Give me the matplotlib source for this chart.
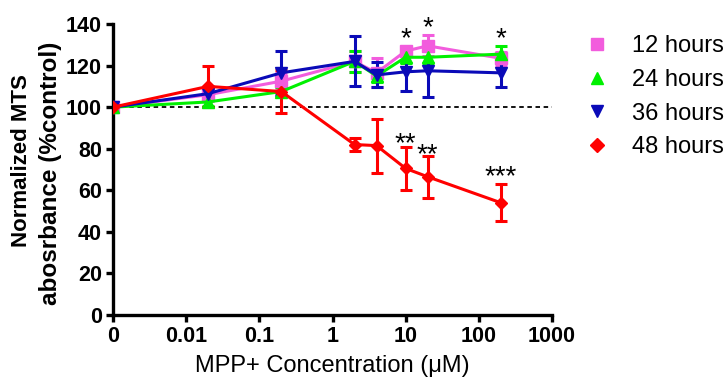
import matplotlib
matplotlib.use("Agg")
import matplotlib.pyplot as plt
from matplotlib.lines import Line2D

plt.rcParams['font.family'] = ['Liberation Sans', 'DejaVu Sans']

# Data (MTS absorbance, % of control)
concentration = [0, 0.02, 0.2, 2, 4, 10, 20, 200]  # uM
ZERO_POS = 0.001  # where the "0" dose sits on the log axis

h12 = [100, 106, 112.5, 122, 116.5, 127, 129.5, 123.5]
h12_err = [1, 3, 4, 5, 7, 2, 5, 3]
h24 = [100, 102.5, 107.5, 122, 115, 124, 124, 125.5]
h24_err = [1, 2, 2, 5, 3, 3, 3, 4]
h36 = [100, 106.5, 116.5, 122, 115.5, 117, 117.5, 116.5]
h36_err = [1, 3, 10.5, 12, 6, 9, 12.5, 7]
h48 = [100, 110, 107.5, 82, 81.5, 70.5, 66.5, 54]
h48_err = [1, 10, 10.5, 3, 13, 10.5, 10, 9]

# significance marks: (concentration, y, text)
sig_marks = [(10, 132.5, '*'), (20, 138, '*'), (200, 132.5, '*'),
             (10, 82, '**'), (20, 77, '**'), (200, 66.5, '***')]

tick_pos = [0.001, 0.01, 0.1, 1, 10, 100, 1000]
tick_labels = ['0', '0.01', '0.1', '1', '10', '100', '1000']

series = [
    ('12 hours', h12, h12_err, '#F25CDD', 's', 8),
    ('24 hours', h24, h24_err, '#00F000', '^', 8),
    ('36 hours', h36, h36_err, '#0A0AB8', 'v', 8),
    ('48 hours', h48, h48_err, '#FF0000', 'D', 6),
]

x = [ZERO_POS if c == 0 else c for c in concentration]

fig = plt.figure(figsize=(7.28, 3.88), dpi=100)
ax = fig.add_axes([113 / 728, 73 / 388, 439 / 728, 291 / 388])

ax.axhline(100, color='black', linestyle=(0, (2.5, 2)), linewidth=1.3, zorder=1)

handles = []
for label, y, err, color, marker, ms in series:
    ax.errorbar(x, y, yerr=err, color=color, marker=marker, markersize=ms,
                linewidth=2.2, elinewidth=2.2, capsize=4, capthick=2.2, zorder=3)
    handles.append(Line2D([0], [0], color=color, marker=marker, linestyle='none',
                          markersize=9 if marker != 'D' else 7, label=label))

for c, yv, txt in sig_marks:
    ax.text(c, yv, txt, ha='center', va='center', fontsize=20, color='black')

ax.set_xscale('log')
ax.set_xlim(ZERO_POS, 1000)
ax.set_ylim(0, 140)
ax.set_xticks(tick_pos)
ax.set_xticklabels(tick_labels)
ax.xaxis.set_minor_locator(matplotlib.ticker.NullLocator())
ax.set_yticks(range(0, 141, 20))

for side in ['top', 'right']:
    ax.spines[side].set_visible(False)
for side in ['left', 'bottom']:
    ax.spines[side].set_linewidth(2.4)
ax.tick_params(width=2.4, length=5, labelsize=15.5, pad=3)
for lab in ax.get_xticklabels() + ax.get_yticklabels():
    lab.set_fontweight('bold')

ax.set_xlabel('MPP+ Concentration (\u03bcM)', fontsize=17, labelpad=6)

# y label drawn as two lines, the first one is set narrower in the original
fig.text(22 / 728, 1 - 161 / 388, 'Normalized MTS', rotation=90, fontsize=16,
         fontweight='bold', ha='center', va='center')
fig.text(51 / 728, 1 - 173 / 388, 'abosrbance (%control)', rotation=90, fontsize=17.5,
         fontweight='bold', ha='center', va='center')

ax.legend(handles=handles, loc='upper left', bbox_to_anchor=(585 / 728, 1 - 35 / 388),
          bbox_transform=fig.transFigure, frameon=False, fontsize=17,
          handlelength=1.0, handletextpad=1.0, labelspacing=0.5, borderpad=0,
          borderaxespad=0)

fig.savefig('out.png', dpi=100)
